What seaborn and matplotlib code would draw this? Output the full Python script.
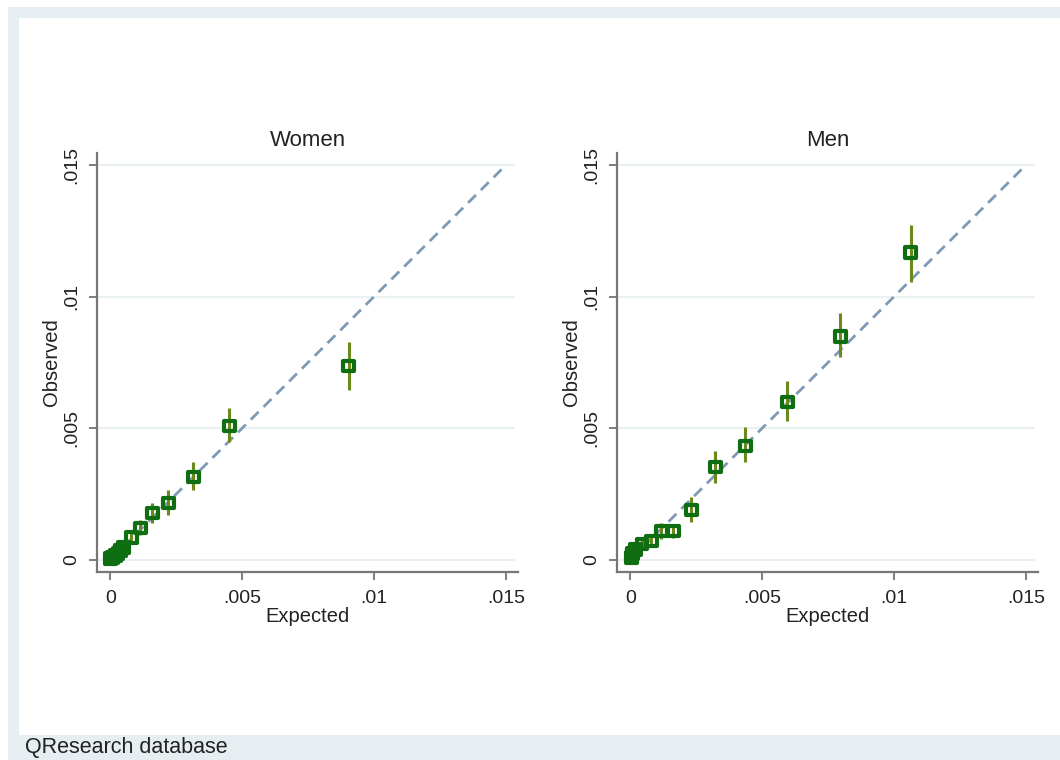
import numpy as np
import pandas as pd
import matplotlib
matplotlib.use("Agg")
import matplotlib.pyplot as plt
import seaborn as sns

sns.set_theme(style="white")
plt.rcParams['font.family'] = ['Liberation Sans', 'DejaVu Sans']

# ---- data ----
women_expected = [0.0000, 0.0001, 0.0002, 0.0003, 0.0004, 0.0005, 0.0008, 0.00114, 0.0016, 0.0022, 0.00315, 0.00452, 0.00904]
women_observed = [0.00005, 0.0001, 0.00018, 0.00025, 0.00035, 0.00048, 0.00084, 0.00121, 0.00178, 0.00216, 0.00315, 0.00509, 0.00737]
women_lo = [0.0, 0.00005, 0.0001, 0.00015, 0.00022, 0.00032, 0.00062, 0.00095, 0.00142, 0.00171, 0.00266, 0.00448, 0.00645]
women_hi = [0.0001, 0.00017, 0.00026, 0.00036, 0.00048, 0.00064, 0.00108, 0.0015, 0.00215, 0.00265, 0.00372, 0.00577, 0.00828]

men_expected = [0.00005, 0.0001, 0.0002, 0.00045, 0.0008, 0.00118, 0.00163, 0.00232, 0.00323, 0.00437, 0.00596, 0.00797, 0.01063]
men_observed = [0.00008, 0.00025, 0.0004, 0.0006, 0.00072, 0.0011, 0.0011, 0.0019, 0.00353, 0.00433, 0.006, 0.0085, 0.01169]
men_lo = [0.0, 0.0001, 0.00022, 0.0004, 0.0005, 0.0008, 0.00085, 0.00143, 0.00292, 0.00372, 0.00528, 0.00771, 0.01055]
men_hi = [0.00018, 0.0004, 0.0006, 0.0008, 0.00095, 0.0014, 0.00138, 0.0024, 0.00415, 0.00505, 0.00678, 0.00938, 0.01272]

ticks = [0, 0.005, 0.01, 0.015]
tick_labels = ["0", ".005", ".01", ".015"]
panel_titles = ["Women", "Men"]
ref_line = [0, 0.015]

W, H = 1060, 760
fig = plt.figure(figsize=(W / 100, H / 100), dpi=100)
fig.patch.set_facecolor("white")

# outer Stata-like frame
bg = "#e6eef1"
fig.add_artist(plt.Rectangle((8 / W, 0), 1 - 8 / W, 1 - 7 / H, transform=fig.transFigure,
                             facecolor=bg, edgecolor="none", zorder=-10))
fig.add_artist(plt.Rectangle((19 / W, 25 / H), 1 - 19 / W, 1 - 18 / H - 25 / H, transform=fig.transFigure,
                             facecolor="white", edgecolor="none", zorder=-9))
fig.text(25 / W, 12 / H, "QResearch database", fontsize=15.5, color="#222222",
         ha="left", va="center")

panels = [
    (women_expected, women_observed, women_lo, women_hi),
    (men_expected, men_observed, men_lo, men_hi),
]
lefts = [97, 617]
ax_w, ax_h = 421, 419
ax_bottom = 760 - 572

for i, (ex, ob, lo, hi) in enumerate(panels):
    ax = fig.add_axes([lefts[i] / W, ax_bottom / H, ax_w / W, ax_h / H])
    ax.set_facecolor("none")
    df = pd.DataFrame({"Expected": ex, "Observed": ob, "lo": lo, "hi": hi})

    for t in ticks:
        ax.axhline(t, color="#eaf1f2", lw=1.5, zorder=0, xmin=0.0, xmax=0.99)

    sns.lineplot(x=ref_line, y=ref_line, ax=ax, color="#7f9ab5", lw=2,
                 linestyle=(0, (4, 2.5)), zorder=1)
    ax.vlines(df["Expected"], df["lo"], df["hi"], color="#6a8a1c", lw=2.2, zorder=2)
    sns.scatterplot(data=df, x="Expected", y="Observed", ax=ax, marker="s", s=60,
                    facecolor="none", edgecolor="#0f6e12", linewidth=3, zorder=3)
    for coll in ax.collections:
        try:
            coll.set_joinstyle("round")
        except Exception:
            pass

    ax.set_xlim(-0.0005, 0.01546)
    ax.set_ylim(-0.00046, 0.01546)
    ax.set_xticks(ticks)
    ax.set_xticklabels(tick_labels)
    ax.set_yticks(ticks)
    ax.set_yticklabels(tick_labels, rotation=90, va="center")
    ax.tick_params(axis="both", direction="out", length=6, width=1.2, color="#666666",
                   labelsize=14, labelcolor="#222222", left=True, bottom=True)
    ax.tick_params(axis="y", pad=6)
    ax.tick_params(axis="x", pad=7)
    for s in ["top", "right"]:
        ax.spines[s].set_visible(False)
    for s in ["left", "bottom"]:
        ax.spines[s].set_color("#777777")
        ax.spines[s].set_linewidth(1.6)
    ax.set_xlabel("Expected", fontsize=14.5, color="#222222", labelpad=0)
    ax.set_ylabel("Observed", fontsize=14.5, color="#222222", labelpad=2)
    ax.set_title(panel_titles[i], fontsize=16, color="#222222", pad=5)

fig.savefig("out.png", dpi=100, facecolor="white")
